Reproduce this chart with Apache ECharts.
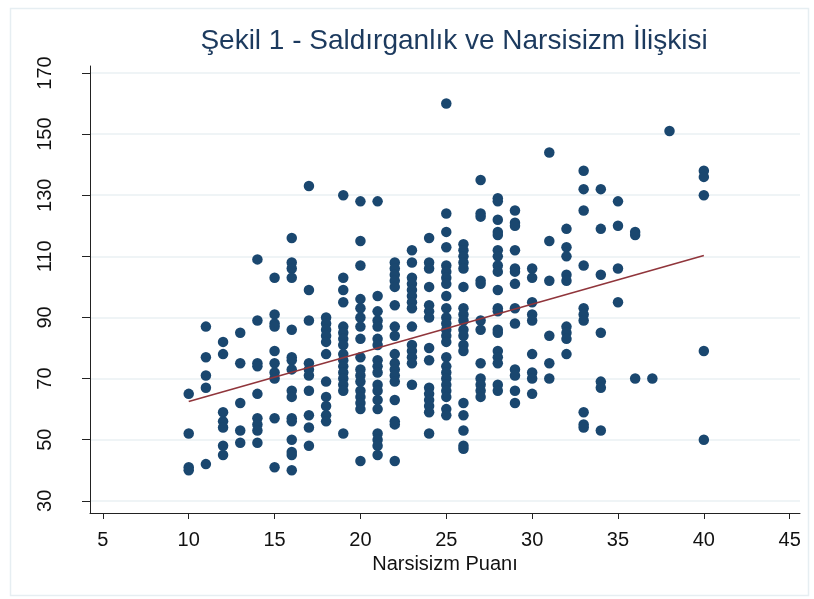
<!DOCTYPE html>
<html>
<head>
<meta charset="utf-8">
<script src="https://cdn.jsdelivr.net/npm/echarts@6/dist/echarts.min.js"></script>
<style>html,body{margin:0;padding:0;background:#fff}#c{width:814px;height:599px}</style>
</head>
<body>
<div id="c"></div>
<script>
const titleText = 'Şekil 1 - Saldırganlık ve Narsisizm İlişkisi';
const xAxisName = 'Narsisizm Puanı';
const xTicks = [5, 10, 15, 20, 25, 30, 35, 40, 45];
const yTicks = [30, 50, 70, 90, 110, 130, 150, 170];
const narsisizmValues = [10,11,12,13,14,15,16,17,18,19,20,21,22,23,24,25,26,27,28,29,30,31,32,33,34,35,36,37,38,39,40];
const saldirganlikByNarsisizm = [
  [65, 52, 41, 40],
  [87, 77, 71, 67, 42],
  [82, 78, 59, 56, 54, 48, 45],
  [85, 75, 62, 53, 49],
  [109, 89, 75, 74, 65, 57, 55, 53, 49],
  [103, 91, 88, 87, 79, 75, 72, 70, 57, 41],
  [116, 108, 106, 103, 86, 77, 76, 73, 66, 64, 57, 56, 50, 46, 45, 40],
  [133, 99, 89, 75, 73, 71, 66, 58, 54, 48],
  [90, 88, 86, 84, 82, 78, 69, 64, 61, 58, 56],
  [130, 103, 99, 95, 87, 85, 83, 81, 78, 76, 74, 72, 70, 68, 66, 52],
  [128, 115, 107, 96, 93, 90, 87, 83, 77, 73, 71, 69, 66, 64, 62, 60, 43],
  [128, 97, 92, 89, 87, 83, 81, 76, 74, 72, 68, 66, 63, 60, 52, 50, 48, 45],
  [108, 106, 104, 102, 100, 94, 87, 84, 78, 75, 73, 71, 69, 63, 56, 55, 43],
  [112, 108, 103, 101, 99, 97, 95, 93, 87, 81, 79, 77, 75, 68],
  [116, 108, 106, 100, 94, 92, 90, 80, 76, 67, 65, 63, 61, 59, 52],
  [160, 124, 118, 113, 107, 105, 103, 101, 97, 93, 90, 88, 86, 84, 82, 77, 74, 72, 70, 68, 66, 64, 60, 58],
  [114, 112, 110, 108, 106, 100, 93, 91, 89, 86, 84, 81, 79, 62, 58, 53, 48, 47],
  [135, 124, 123, 102, 101, 89, 86, 75, 70, 68, 66, 64],
  [129, 128, 122, 118, 117, 112, 110, 107, 105, 99, 93, 92, 86, 85, 79, 77, 75, 68, 66],
  [125, 121, 120, 112, 106, 105, 101, 93, 88, 73, 71, 66, 62],
  [106, 103, 95, 91, 89, 78, 72, 70, 65],
  [144, 115, 102, 84, 75, 70],
  [119, 113, 110, 104, 102, 87, 85, 83, 78],
  [138, 132, 125, 107, 93, 91, 89, 59, 55, 54],
  [132, 119, 104, 85, 69, 67, 53],
  [128, 120, 106, 95],
  [118, 117, 70],
  [70],
  [151],
  [],
  [138, 136, 130, 79, 50]
];
const fitX = [10, 40];
const fitY = [62.5, 110.3];

const points = [];
narsisizmValues.forEach((x, i) => {
  saldirganlikByNarsisizm[i].forEach(y => points.push([x, y]));
});
const fitLine = fitX.map((x, i) => [x, fitY[i]]);

const FONT = 'Liberation Sans, Arial, sans-serif';
const chart = echarts.init(document.getElementById('c'), null, {renderer: 'canvas'});
chart.setOption({
  animation: false,
  backgroundColor: '#ffffff',
  title: {
    text: titleText,
    left: 449, top: 22, textAlign: 'center',
    textStyle: {fontFamily: FONT, fontSize: 28, fontWeight: 'normal', color: '#1c3a5e'}
  },
  graphic: [{
    type: 'rect', left: 8, top: 6, z: -10, silent: true,
    shape: {width: 798, height: 587},
    style: {fill: 'none', stroke: '#e6eef2', lineWidth: 1.5}
  }],
  grid: {left: 90, right: 14, top: 66, bottom: 86},
  xAxis: {
    type: 'value', min: 4.25, max: 45.6,
    axisLine: {show: true, lineStyle: {color: '#222', width: 1}},
    axisTick: {show: true, customValues: xTicks, length: 6, lineStyle: {color: '#222'}},
    axisLabel: {customValues: xTicks, fontSize: 20, color: '#111', margin: 17, fontFamily: FONT},
    splitLine: {show: false},
    name: xAxisName, nameLocation: 'middle', nameGap: 33,
    nameTextStyle: {fontSize: 20, color: '#111', fontFamily: FONT}
  },
  yAxis: {
    type: 'value', min: 26, max: 172.3,
    axisLine: {show: true, lineStyle: {color: '#222', width: 1}},
    axisTick: {show: true, customValues: yTicks, length: 8, lineStyle: {color: '#222'}},
    axisLabel: {customValues: yTicks, rotate: 90, fontSize: 20, color: '#111', margin: 35, fontFamily: FONT},
    splitLine: {show: true, lineStyle: {color: '#eaf1f3', width: 1.5}}
  },
  series: [{
    type: 'scatter', data: points, symbolSize: 10.5,
    itemStyle: {color: '#1a476f', opacity: 1},
    z: 2
  }, {
    type: 'line', data: fitLine, showSymbol: false, symbol: 'none',
    lineStyle: {color: '#90353b', width: 1.6},
    z: 3
  }]
});
</script>
</body>
</html>
